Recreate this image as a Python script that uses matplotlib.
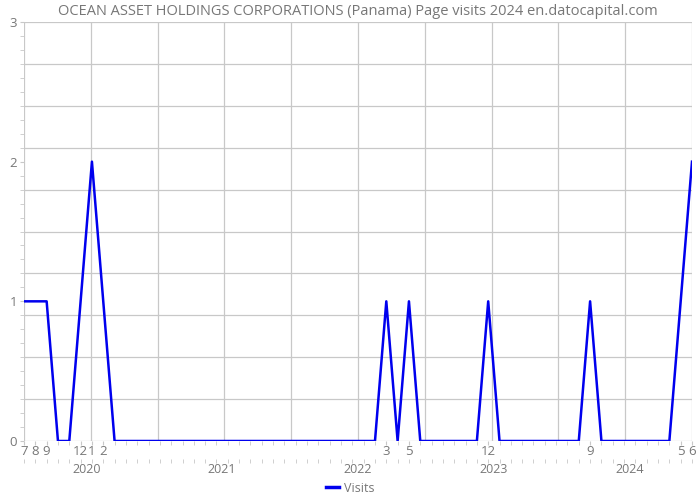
import numpy as np
import pandas as pd
import matplotlib
matplotlib.use('Agg')
import matplotlib.pyplot as plt
from matplotlib.ticker import FixedLocator, MultipleLocator

# =========================
# Data (monthly page visits, Jul 2019 - Jun 2024)
# =========================
months = pd.period_range('2019-07', '2024-06', freq='M')
visits = [1, 1, 1, 0, 0, 1,                     # 2019 Jul-Dec
          2, 1, 0, 0, 0, 0, 0, 0, 0, 0, 0, 0,   # 2020
          0, 0, 0, 0, 0, 0, 0, 0, 0, 0, 0, 0,   # 2021
          0, 0, 1, 0, 1, 0, 0, 0, 0, 0, 0, 1,   # 2022
          0, 0, 0, 0, 0, 0, 0, 0, 1, 0, 0, 0,   # 2023
          0, 0, 0, 0, 1, 2]                     # 2024 Jan-Jun
years = [2020, 2021, 2022, 2023, 2024]

TITLE = 'OCEAN ASSET HOLDINGS CORPORATIONS (Panama) Page visits 2024 en.datocapital.com'
LINE_COLOR = '#0000ee'
GRID_COLOR = '#c8c8c8'
TEXT_COLOR = '#777777'

plt.rcParams['font.family'] = ['Open Sans', 'DejaVu Sans']

x = np.arange(len(months))
y = np.array(visits)

fig = plt.figure(figsize=(7, 5), dpi=100)
ax = fig.add_axes([24 / 700, 1 - 441 / 500, 668 / 700, 419 / 500])

ax.plot(x, y, color=LINE_COLOR, linewidth=1.8, label='Visits', zorder=3)
ax.set_xlim(0, len(months) - 1)
ax.set_ylim(0, 3)

# grid: 10 even vertical divisions, horizontal every 0.3
for gx in np.linspace(0, len(months) - 1, 11):
    ax.axvline(gx, color=GRID_COLOR, linewidth=0.9, zorder=1)
for gy in np.arange(0, 3.01, 0.3):
    ax.axhline(gy, color=GRID_COLOR, linewidth=0.9, zorder=1)
for s in ax.spines.values():
    s.set_visible(False)

# y axis
ax.set_yticks([0, 1, 2, 3])
ax.yaxis.set_minor_locator(MultipleLocator(0.1))
ax.tick_params(axis='y', which='both', length=3, color=GRID_COLOR,
               labelcolor=TEXT_COLOR, labelsize=9.5, pad=2)

# x axis: label months that have visits
nz = [i for i, v in enumerate(visits) if v > 0]
ax.set_xticks(nz)
ax.set_xticklabels([str(months[i].month) for i in nz])
ax.xaxis.set_minor_locator(FixedLocator(x))
ax.tick_params(axis='x', which='both', length=3, color=GRID_COLOR,
               labelcolor=TEXT_COLOR, labelsize=9.5, pad=0)

# second row: year labels
sec = ax.secondary_xaxis(-0.043)
sec.spines['bottom'].set_visible(False)
year_pos = [list(months.year).index(yr) - 0.5 for yr in years]
sec.set_xticks(year_pos)
sec.set_xticklabels([str(yr) for yr in years])
sec.xaxis.set_minor_locator(FixedLocator(x))
sec.tick_params(axis='x', which='major', length=0, labelcolor=TEXT_COLOR,
                labelsize=9, pad=3)
sec.tick_params(axis='x', which='minor', length=3, color=GRID_COLOR)

ax.set_title(TITLE, color=TEXT_COLOR, fontsize=10.5, pad=5)

leg = fig.legend(loc='lower center', bbox_to_anchor=(0.5, -0.012), frameon=False,
                 fontsize=9, handlelength=1.0, handletextpad=0.4)
for line in leg.get_lines():
    line.set_linewidth(2.5)
for t in leg.get_texts():
    t.set_color(TEXT_COLOR)

fig.savefig('out.png', dpi=100)
